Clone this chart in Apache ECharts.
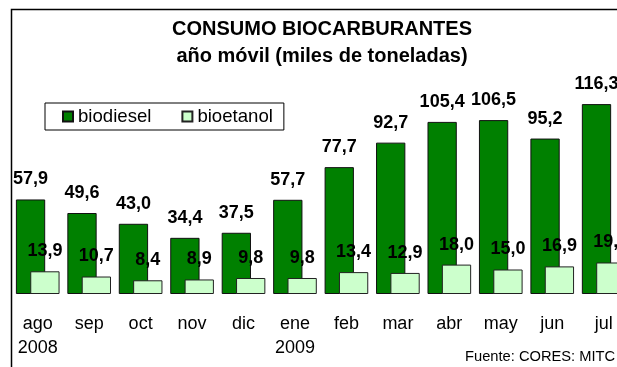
<!DOCTYPE html>
<html>
<head>
<meta charset="utf-8">
<script src="https://cdn.jsdelivr.net/npm/echarts@6/dist/echarts.min.js"></script>
<style>
  html, body { margin: 0; padding: 0; background: #fff; overflow: hidden; }
  /* the plot runs past the right edge of the window, so the canvas is wider */
  #chart { width: 660px; height: 367px; }
</style>
</head>
<body>
<div id="chart"></div>
<script>
// Monthly categories (rolling year, ago 2008 - jul 2009)
const months = ['ago\n2008', 'sep', 'oct', 'nov', 'dic', 'ene\n2009', 'feb', 'mar', 'abr', 'may', 'jun', 'jul'];
// Thousands of tonnes
const biodiesel = [57.9, 49.6, 43.0, 34.4, 37.5, 57.7, 77.7, 92.7, 105.4, 106.5, 95.2, 116.3];
const bioetanol = [13.9, 10.7, 8.4, 8.9, 9.8, 9.8, 13.4, 12.9, 18.0, 15.0, 16.9, 19.3];

const FONT = '"Liberation Sans", Arial, sans-serif';
const fmt = p => p.value.toFixed(1).replace('.', ',');

const valueLabel = {
  show: true,
  position: 'top',
  distance: 11,
  formatter: fmt,
  color: '#000',
  fontFamily: FONT,
  fontWeight: 'bold',
  fontSize: 18,
  lineHeight: 18
};

const chart = echarts.init(document.getElementById('chart'), null, { renderer: 'canvas' });

chart.setOption({
  backgroundColor: '#fff',
  animation: false,
  graphic: [
    {
      type: 'rect',
      z: -10,
      shape: { x: 11.5, y: 9.5, width: 700, height: 400 },
      style: { fill: 'none', stroke: '#000', lineWidth: 1.5 }
    },
    {
      type: 'text',
      x: 322, y: 29,
      style: {
        text: 'CONSUMO BIOCARBURANTES',
        textAlign: 'center', textVerticalAlign: 'middle',
        font: 'bold 20px ' + FONT, fill: '#000'
      }
    },
    {
      type: 'text',
      x: 322, y: 56,
      style: {
        text: 'año móvil (miles de toneladas)',
        textAlign: 'center', textVerticalAlign: 'middle',
        font: 'bold 20px ' + FONT, fill: '#000'
      }
    },
    {
      type: 'text',
      x: 465, y: 357,
      style: {
        text: 'Fuente: CORES: MITC',
        textAlign: 'left', textVerticalAlign: 'middle',
        font: '14.7px ' + FONT, fill: '#000'
      }
    }
  ],
  legend: {
    left: 45,
    top: 103,
    orient: 'horizontal',
    icon: 'rect',
    itemWidth: 10,
    itemHeight: 10,
    itemGap: 30,
    padding: [4, 11, 4, 17],
    borderColor: '#000',
    borderWidth: 1,
    backgroundColor: '#fff',
    textStyle: { color: '#000', fontFamily: FONT, fontSize: 18.6 },
    data: ['biodiesel', 'bioetanol']
  },
  grid: { left: 12, top: 65.4, width: 617.4, height: 228.6, containLabel: false },
  xAxis: {
    type: 'category',
    data: months,
    axisLine: { show: false },
    axisTick: { show: false },
    axisLabel: {
      color: '#000',
      fontFamily: FONT,
      fontSize: 18,
      lineHeight: 24,
      margin: 18,
      interval: 0
    }
  },
  yAxis: {
    type: 'value',
    min: 0,
    max: 140,
    show: false,
    splitLine: { show: false }
  },
  series: [
    {
      name: 'biodiesel',
      type: 'bar',
      data: biodiesel,
      barWidth: 29.3,
      barGap: '-51%',
      itemStyle: { color: '#008000', borderColor: '#111', borderWidth: 1 },
      label: valueLabel
    },
    {
      name: 'bioetanol',
      type: 'bar',
      data: bioetanol,
      barWidth: 29.3,
      barGap: '-51%',
      itemStyle: { color: '#CCFFCC', borderColor: '#222', borderWidth: 1 },
      label: valueLabel
    }
  ]
});
</script>
</body>
</html>
